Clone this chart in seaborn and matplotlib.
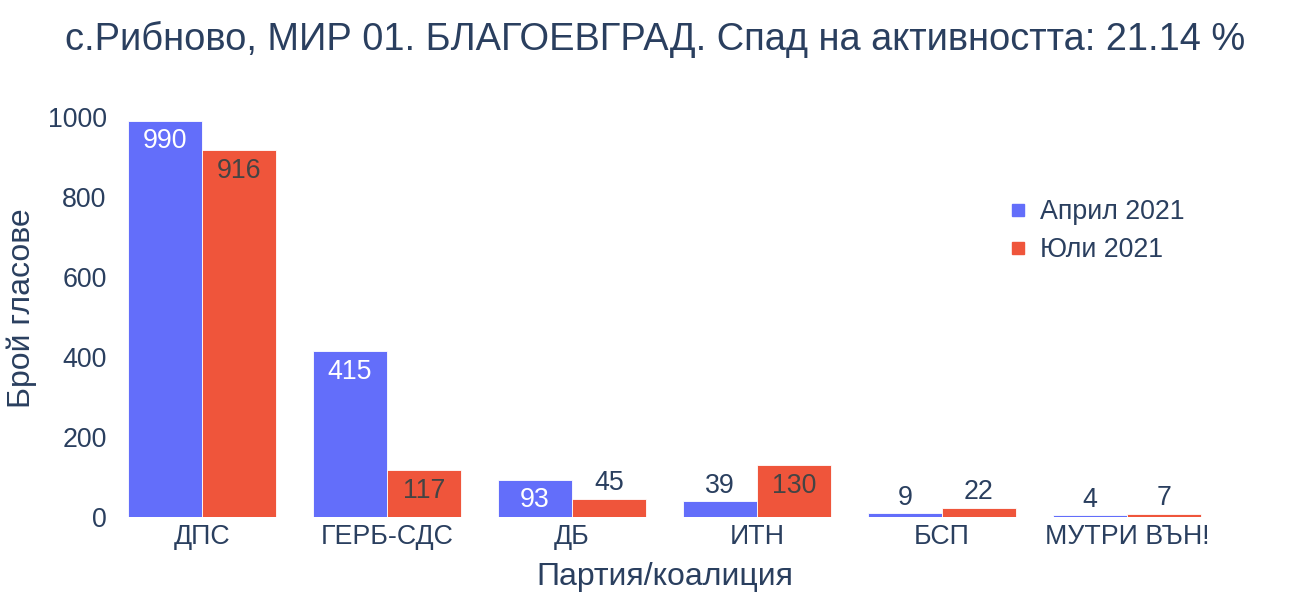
import numpy as np
import pandas as pd
import matplotlib
matplotlib.use("Agg")
import matplotlib.pyplot as plt
from matplotlib.lines import Line2D
import seaborn as sns

# data
parties = ["ДПС", "ГЕРБ-СДС", "ДБ", "ИТН", "БСП", "МУТРИ ВЪН!"]
april = [990, 415, 93, 39, 9, 4]
july = [916, 117, 45, 130, 22, 7]
series = ["Април 2021", "Юли 2021"]
colors = ["#636EFA", "#EF553B"]
title = "с.Рибново, МИР 01. БЛАГОЕВГРАД. Спад на активността: 21.14 %"

df = pd.DataFrame({
    "party": parties * 2,
    "votes": april + july,
    "period": [series[0]] * len(parties) + [series[1]] * len(parties),
})

sns.set_theme(style="white")
plt.rcParams["font.family"] = ["Liberation Sans", "DejaVu Sans"]
txt = "#2a3f5f"
fs = 19.3

fig = plt.figure(figsize=(13, 6), dpi=100)
ax = fig.add_axes([0.0842, 0.1383, 0.8538, 0.695])

sns.barplot(data=df, x="party", y="votes", hue="period", order=parties,
            hue_order=series, palette=colors, width=0.8, saturation=1,
            edgecolor="white", linewidth=0.6, legend=False, ax=ax)

ax.set_ylim(0, 1042)
ax.set_xlim(-0.5, len(parties) - 0.5)
ax.set_yticks(np.arange(0, 1001, 200))
for s in ax.spines.values():
    s.set_visible(False)
ax.tick_params(axis="both", length=0, labelsize=fs, colors=txt)
ax.tick_params(axis="x", pad=5)
ax.tick_params(axis="y", pad=2)
ax.set_xlabel("Партия/коалиция", fontsize=23, color=txt, labelpad=9)
ax.set_ylabel("Брой гласове", fontsize=23, color=txt, labelpad=8)

# value labels: inside the bar if there is room, else above
inside_col = ["white", "#444444"]
for ci, cont in enumerate(ax.containers):
    for bar in cont:
        h = bar.get_height()
        xc = bar.get_x() + bar.get_width() / 2
        if h > 70:
            ax.annotate(f"{int(round(h))}", (xc, h), xytext=(0, -5.5),
                        textcoords="offset points", ha="center", va="top",
                        fontsize=fs, color=inside_col[ci])
        else:
            ax.annotate(f"{int(round(h))}", (xc, h), xytext=(0, 2),
                        textcoords="offset points", ha="center", va="bottom",
                        fontsize=fs, color=txt)

handles = [Line2D([], [], marker="s", linestyle="", markersize=9,
                  markerfacecolor=c, markeredgecolor=c) for c in colors]
ax.legend(handles, series, loc="upper left", bbox_to_anchor=(0.785, 0.82),
          frameon=False, fontsize=fs, labelcolor=txt, handletextpad=0.3,
          labelspacing=0.45, handlelength=1.0)

fig.suptitle(title, x=0.504, y=0.965, fontsize=27.4, color=txt)

fig.savefig("out.png", dpi=100)
